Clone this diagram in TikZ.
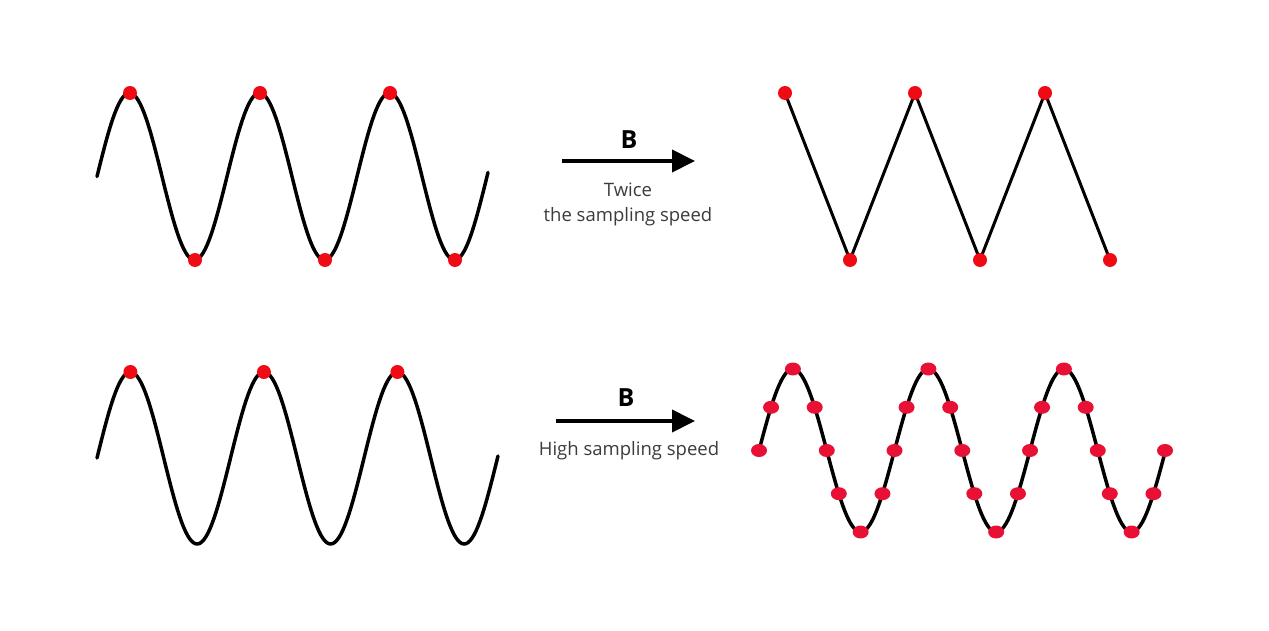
\documentclass[tikz,border=0pt]{standalone}
\usepackage{fontspec}
\setmainfont{Open Sans}
\usetikzlibrary{arrows.meta}
\definecolor{dotred}{RGB}{240,10,20}
\definecolor{dotpink}{RGB}{232,16,52}
\definecolor{txtgray}{RGB}{60,60,60}
\tikzstyle{wave}=[line width=3.5pt,black,line join=round,line cap=round]
\tikzstyle{zig}=[line width=3pt,black,line join=miter]
\tikzstyle{dot}=[fill=dotred,draw=none]
\tikzstyle{sdot}=[fill=dotpink,draw=none]
\tikzstyle{arr}=[line width=4pt,-{Triangle[length=23pt,width=22pt]}]
\tikzstyle{lab}=[font=\bfseries\fontsize{25}{28}\selectfont]
\tikzstyle{capt}=[text=txtgray,font=\fontsize{18.5}{25}\selectfont,align=center]

\begin{document}
\begin{tikzpicture}[x=1pt,y=-1pt]
\useasboundingbox[fill=white] (0,0) rectangle (1269,631);
% top left: slow signal, two samples per period
\draw[wave] plot[domain=97:488,samples=200] (\x,{176.5-83.5*sin((\x-97)/130*360)});
\foreach \px in {130,260,390} \fill[dot] (\px,93) circle (7);
\foreach \px in {195,325,455} \fill[dot] (\px,260) circle (7);
% top arrow
\coordinate (ta) at (562,161); \coordinate (tb) at (695,161);
\draw[arr] (ta) -- (tb);
\node[lab] (tB) at (629,140) {B};
\node[capt] (tcap) at (628,204) {Twice\\the sampling speed};
% top right: zigzag through the samples
\coordinate (p1) at (785,93); \coordinate (p2) at (850,260);
\coordinate (p3) at (915,93); \coordinate (p4) at (980,260);
\coordinate (p5) at (1045,93); \coordinate (p6) at (1110,260);
\draw[zig] (p1) -- (p2) -- (p3) -- (p4) -- (p5) -- (p6);
\foreach \i in {1,...,6} \fill[dot] (p\i) circle (7);
% bottom left
\draw[wave] plot[domain=97:498,samples=200] (\x,{458-86*sin((\x-97)/133.5*360)});
\foreach \px in {130.4,263.9,397.4} \fill[dot] (\px,372) circle (7);
% bottom arrow
\coordinate (ba) at (556,421); \coordinate (bb) at (695,421);
\draw[arr] (ba) -- (bb);
\node[lab] (bB) at (626,398) {B};
\node[capt] (bcap) at (629,451) {High sampling speed};
% bottom right: many samples
\draw[wave] plot[domain=759:1165,samples=200] (\x,{450.5-81.5*sin((\x-759)/135.5*360)});
\foreach \k in {0,1,2}
  \foreach \ph in {0,32,90,148,180,212,270,328}
    \fill[sdot] ({759+135.5*(\k+\ph/360)},{450.5-81.5*sin(\ph)}) ellipse (8 and 6.5);
\fill[sdot] (1165,450.5) ellipse (8 and 6.5);
\end{tikzpicture}
\end{document}
